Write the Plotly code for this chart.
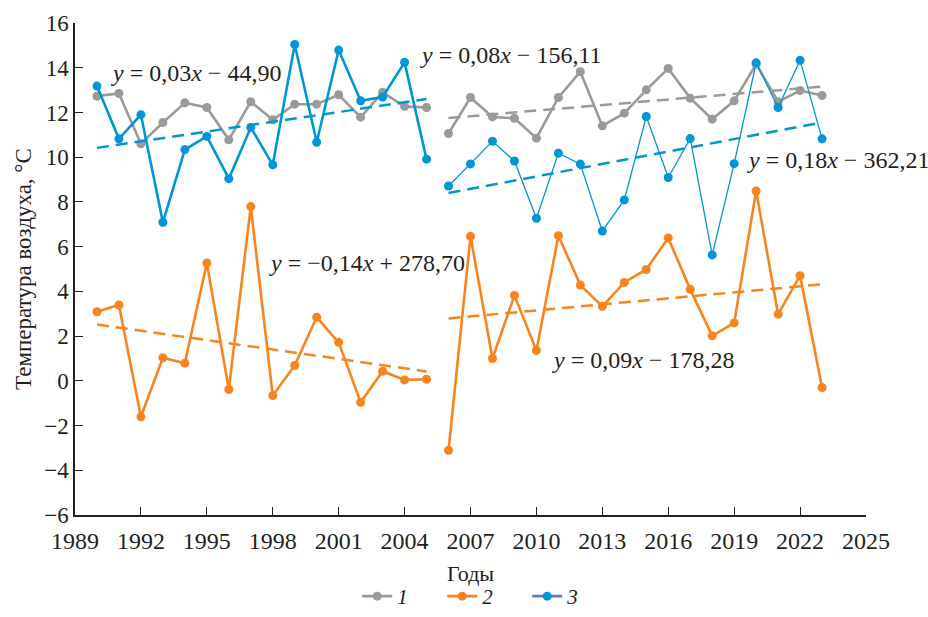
import numpy as np
import plotly.graph_objects as go

# Years of the two observation periods
years_p1 = list(range(1990, 2006))
years_p2 = list(range(2006, 2024))

# Series 1 (gray)
s1_p1 = [12.73, 12.85, 10.60, 11.55, 12.43, 12.22, 10.78, 12.48, 11.67, 12.37,
         12.37, 12.79, 11.79, 12.90, 12.27, 12.22]
s1_p2 = [11.06, 12.67, 11.80, 11.74, 10.85, 12.67, 13.82, 11.40, 11.97, 13.01,
         13.97, 12.64, 11.70, 12.52, 14.16, 12.48, 12.98, 12.76]

# Series 2 (orange)
s2_p1 = [3.09, 3.39, -1.61, 1.03, 0.79, 5.27, -0.39, 7.79, -0.66, 0.69,
         2.84, 1.72, -0.96, 0.43, 0.04, 0.07]
s2_p2 = [-3.11, 6.46, 1.00, 3.82, 1.36, 6.49, 4.28, 3.33, 4.40, 4.98,
         6.39, 4.09, 2.01, 2.59, 8.49, 2.98, 4.70, -0.30]

# Series 3 (blue)
s3_p1 = [13.18, 10.82, 11.90, 7.09, 10.34, 10.93, 9.04, 11.33, 9.66, 15.04,
         10.67, 14.79, 12.52, 12.69, 14.24, 9.91]
s3_p2 = [8.71, 9.70, 10.71, 9.83, 7.27, 10.18, 9.69, 6.70, 8.09, 11.82,
         9.09, 10.83, 5.63, 9.71, 14.22, 12.22, 14.33, 10.82]

x_ticks = list(range(1989, 2026, 3))
y_ticks = list(range(-6, 17, 2))

GRAY = "#9a9a9a"
ORANGE = "#f7841f"
BLUE = "#0096d6"
LEG_BLUE = "#5b7fc6"
INK = "#231f20"
FONT = "Liberation Serif"

fig = go.Figure()


def add_series(x, y, color, width):
    fig.add_trace(go.Scatter(
        x=x, y=y, mode="lines+markers", showlegend=False,
        line=dict(color=color, width=width),
        marker=dict(color=color, size=9),
    ))


def add_trend(x, y, color):
    k, b = np.polyfit(x, y, 1)
    xs = np.array([x[0], x[-1]], dtype=float)
    fig.add_trace(go.Scatter(
        x=xs, y=k * xs + b, mode="lines", showlegend=False,
        line=dict(color=color, width=2.5, dash="12px,7px"),
    ))


# Observed series
add_series(years_p1, s1_p1, GRAY, 2.6)
add_series(years_p2, s1_p2, GRAY, 2.6)
add_series(years_p1, s2_p1, ORANGE, 2.6)
add_series(years_p2, s2_p2, ORANGE, 2.6)
add_series(years_p1, s3_p1, BLUE, 2.6)
add_series(years_p2, s3_p2, BLUE, 1.3)

# Linear trends
add_trend(years_p1, s3_p1, BLUE)
add_trend(years_p1, s2_p1, ORANGE)
add_trend(years_p2, s1_p2, GRAY)
add_trend(years_p2, s3_p2, BLUE)
add_trend(years_p2, s2_p2, ORANGE)

# Legend entries
for name, lc, mc in [("1", GRAY, GRAY), ("2", ORANGE, ORANGE), ("3", LEG_BLUE, BLUE)]:
    fig.add_trace(go.Scatter(
        x=[None], y=[None], mode="lines+markers", name="<i>%s</i>" % name,
        line=dict(color=lc, width=2.6), marker=dict(color=mc, size=9),
    ))

# Trend equations
equations = [
    (1990.55, 13.78, "<i>y</i> = 0,03<i>x</i> − 44,90"),
    (2004.61, 14.58, "<i>y</i> = 0,08<i>x</i> − 156,11"),
    (2019.50, 9.89, "<i>y</i> = 0,18<i>x</i> − 362,21"),
    (1997.74, 5.28, "<i>y</i> = −0,14<i>x</i> + 278,70"),
    (2010.62, 0.94, "<i>y</i> = 0,09<i>x</i> − 178,28"),
]
for ex, ey, text in equations:
    fig.add_annotation(
        x=ex, y=ey, text=text, showarrow=False, xanchor="left", yanchor="middle",
        font=dict(family=FONT, size=24, color=INK),
    )

# X-axis title placed below the tick labels
fig.add_annotation(
    x=0.5, y=-0.119, xref="paper", yref="paper", text="Годы", showarrow=False,
    xanchor="center", yanchor="middle", font=dict(family=FONT, size=22, color=INK),
)

axis_common = dict(
    showgrid=False, zeroline=False, showline=True, linecolor=INK, linewidth=1.5,
    ticks="inside", ticklen=8, tickwidth=1.3, tickcolor=INK,
)

fig.update_layout(
    width=928, height=617,
    margin=dict(l=75, r=62, t=23, b=102, autoexpand=False),
    paper_bgcolor="white", plot_bgcolor="white",
    font=dict(family=FONT, color=INK),
    xaxis=dict(range=[1989, 2025], tickvals=x_ticks, ticklabelstandoff=3,
               tickfont=dict(family=FONT, size=24, color=INK),
               **axis_common),
    yaxis=dict(range=[-6, 16], tickvals=y_ticks,
               tickfont=dict(family=FONT, size=23, color=INK),
               title=dict(text="Температура воздуха, °C", font=dict(family=FONT, size=23, color=INK), standoff=6),
               **axis_common),
    legend=dict(orientation="h", x=0.518, xanchor="center", xref="paper",
                y=0.0, yref="container", yanchor="bottom",
                font=dict(family=FONT, size=21, color=INK), itemwidth=30,
                entrywidth=40, entrywidthmode="pixels"),
)

fig.write_html("out.html")
